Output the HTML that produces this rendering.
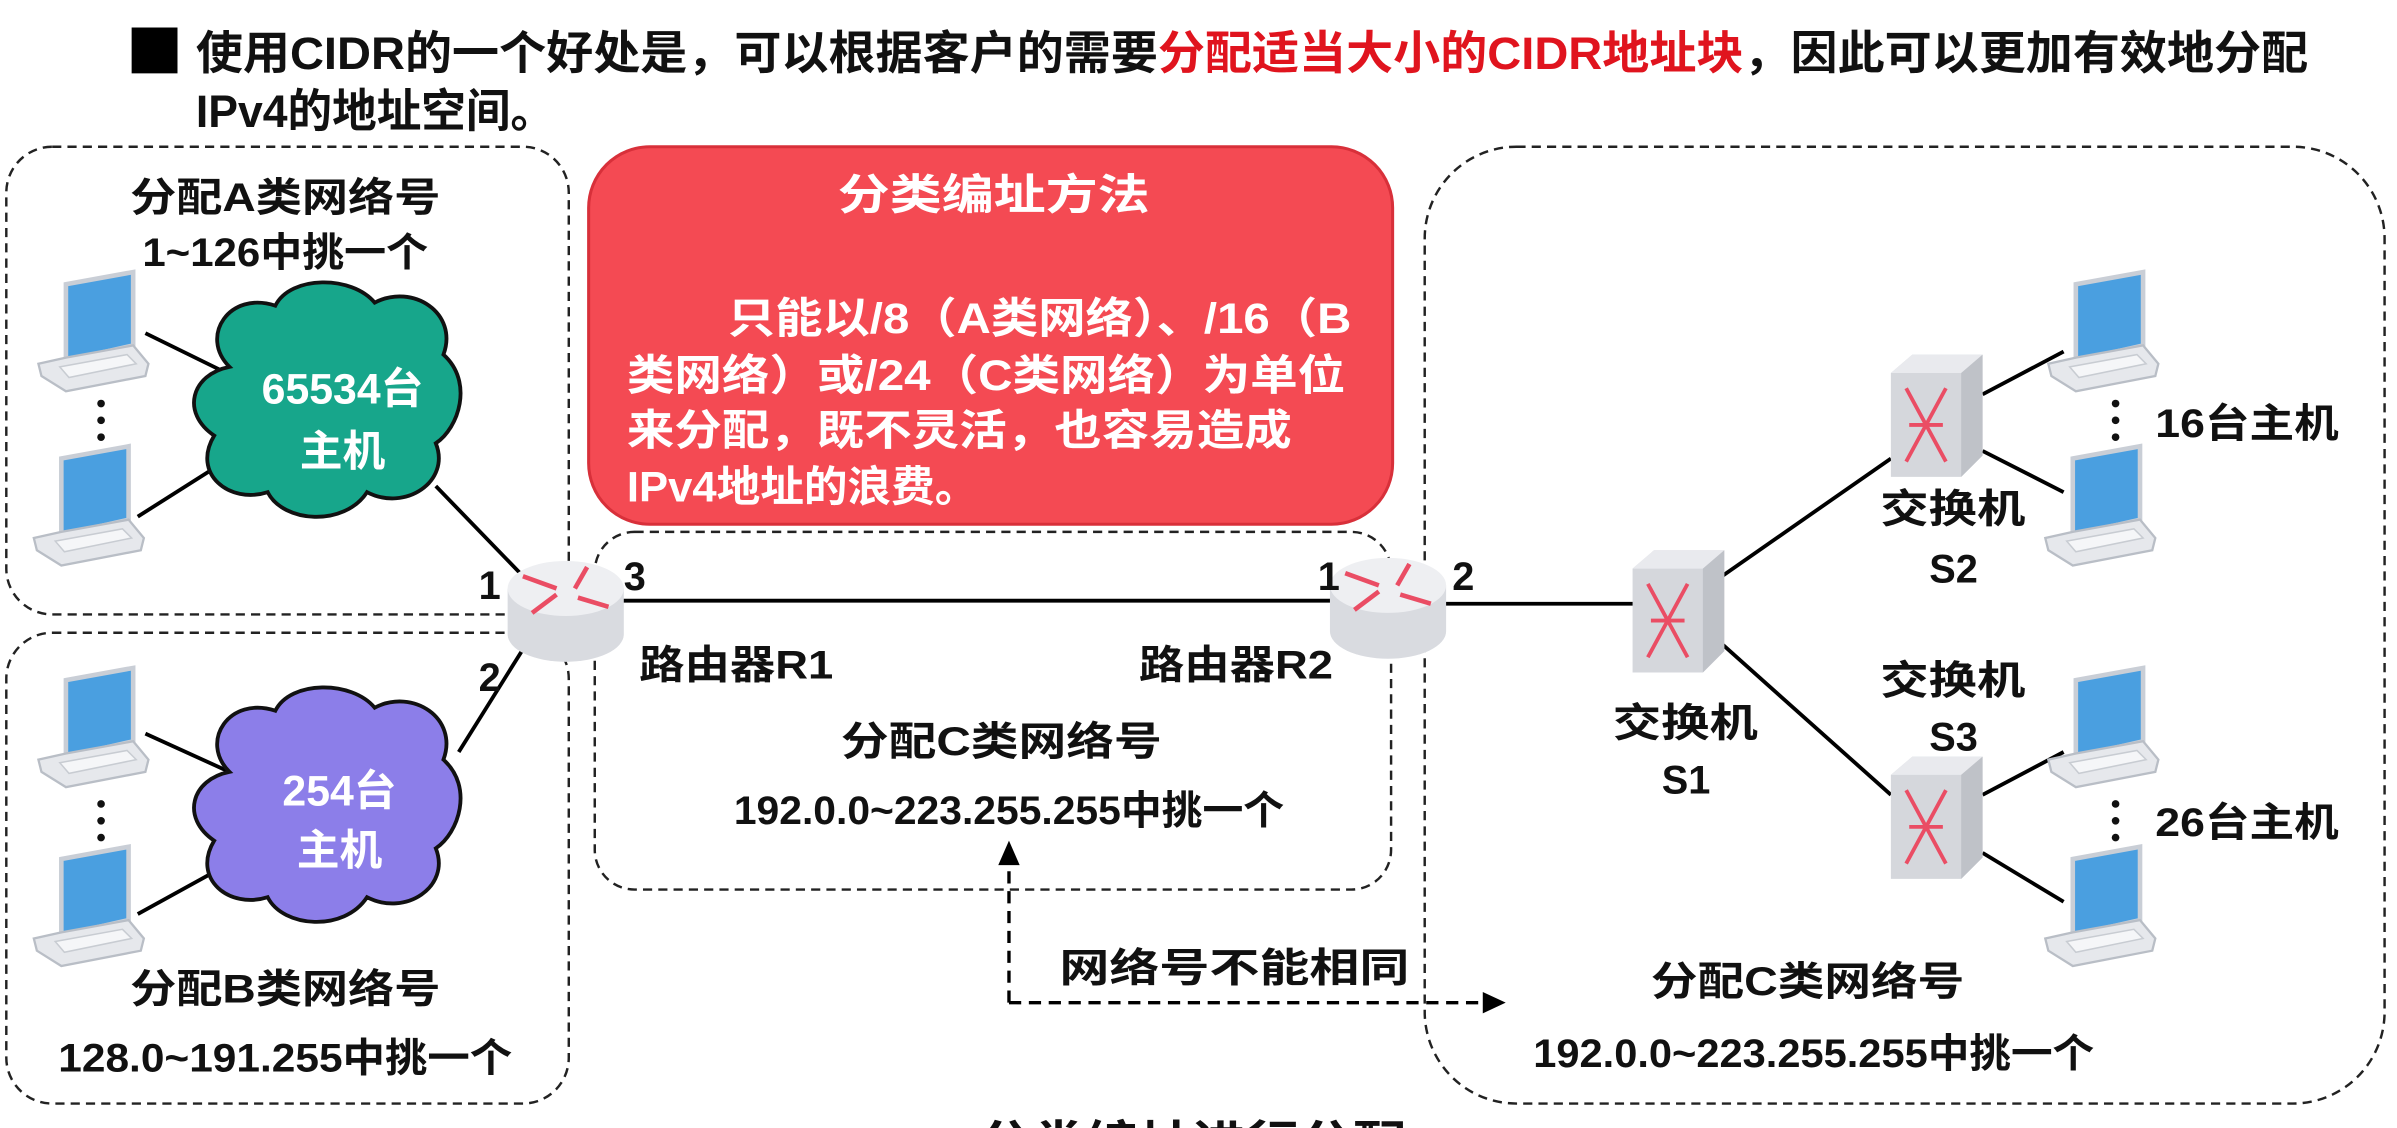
<!DOCTYPE html>
<html><head><meta charset="utf-8"><style>
html,body{margin:0;padding:0;background:#fff;width:2397px;height:1128px;overflow:hidden}
svg text{font-family:"Liberation Sans","Noto Sans CJK SC",sans-serif;font-weight:bold}
</style></head><body>
<svg width="2397" height="1128" viewBox="0 0 1568 738" xmlns="http://www.w3.org/2000/svg">
<defs>
<g id="laptop">
  <polygon points="18,0 62,-8 62,40 18,50" fill="#4a9fe0" stroke="#c9ced6" stroke-width="3"/>
  <polygon points="0,52 18,48 62,40 72,52 70,60 18,70 2,60" fill="#e6e8ec" stroke="#b9bec6" stroke-width="1.5"/>
  <polygon points="14,54 58,46 64,52 20,61" fill="#f5f6f8" stroke="#c8ccd2"/>
</g>
<g id="router">
  <path d="M-38,-10 L-38,20 A38,18 0 0 0 38,20 L38,-10" fill="#d9dbe0"/>
  <ellipse cx="0" cy="-10" rx="38" ry="18" fill="#eeeff2"/>
  <g stroke="#ea4d64" stroke-width="3" fill="none">
    <line x1="-28" y1="-18" x2="-6" y2="-10"/><line x1="-6" y1="-6" x2="-22" y2="6"/>
    <line x1="6" y1="-10" x2="14" y2="-24"/><line x1="8" y1="-4" x2="28" y2="2"/>
  </g>
</g>
<g id="switch">
  <polygon points="0,12 14,0 60,0 60,66 46,80 0,80" fill="#d5d7dc"/>
  <polygon points="0,12 14,0 60,0 46,12" fill="#e9eaee"/>
  <polygon points="46,12 60,0 60,66 46,80" fill="#bfc2c8"/>
  <g stroke="#ea4d64" stroke-width="2.5" fill="none">
    <path d="M10,22 L36,70 M36,22 L10,70 M12,46 L34,46"/>
  </g>
</g>
</defs>

<!-- title -->
<rect x="86" y="18" width="30" height="30" fill="#000"/>
<text x="128" y="45" font-size="30" fill="#111" textLength="1382" lengthAdjust="spacingAndGlyphs">使用CIDR的一个好处是，可以根据客户的需要<tspan fill="#e0141e">分配适当大小的CIDR地址块</tspan>，因此可以更加有效地分配</text>
<text x="128" y="83" font-size="30" fill="#111" textLength="235" lengthAdjust="spacingAndGlyphs">IPv4的地址空间。</text>

<!-- dashed boxes -->
<g fill="none" stroke="#222" stroke-width="1.6" stroke-dasharray="6,4">
<rect x="4" y="96" width="368" height="306" rx="30"/>
<rect x="4" y="414" width="368" height="308" rx="30"/>
<rect x="389" y="348" width="521" height="234" rx="26"/>
<rect x="932" y="96" width="628" height="626" rx="60"/>
</g>

<!-- red box -->
<rect x="385" y="96" width="526" height="247" rx="40" fill="#f44a53" stroke="#d8303a" stroke-width="2"/>
<g fill="#fff" font-size="28">
<text x="548" y="137" textLength="204" lengthAdjust="spacingAndGlyphs">分类编址方法</text>
<text x="476" y="218" textLength="408" lengthAdjust="spacingAndGlyphs">只能以/8（A类网络）、/16（B</text>
<text x="410" y="255" textLength="470" lengthAdjust="spacingAndGlyphs">类网络）或/24（C类网络）为单位</text>
<text x="410" y="291" textLength="435" lengthAdjust="spacingAndGlyphs">来分配，既不灵活，也容易造成</text>
<text x="410" y="328" textLength="230" lengthAdjust="spacingAndGlyphs">IPv4地址的浪费。</text>
</g>

<!-- lines -->
<g stroke="#000" stroke-width="2.5">
<line x1="95" y1="218" x2="150" y2="245"/>
<line x1="90" y1="338" x2="150" y2="300"/>
<line x1="285" y1="318" x2="345" y2="380"/>
<line x1="95" y1="480" x2="150" y2="505"/>
<line x1="90" y1="598" x2="150" y2="565"/>
<line x1="300" y1="492" x2="345" y2="420"/>
<line x1="405" y1="393" x2="875" y2="393"/>
<line x1="945" y1="395" x2="1072" y2="395"/>
<line x1="1125" y1="378" x2="1237" y2="300"/>
<line x1="1125" y1="420" x2="1237" y2="520"/>
<line x1="1297" y1="258" x2="1350" y2="230"/>
<line x1="1297" y1="295" x2="1350" y2="322"/>
<line x1="1297" y1="520" x2="1350" y2="492"/>
<line x1="1297" y1="558" x2="1350" y2="590"/>
</g>

<!-- clouds -->
<g stroke="#111" stroke-width="2.5">
<path d="M150,240 C130,220 150,190 180,200 C190,180 230,180 245,198 C270,185 300,205 290,232 C310,250 300,280 285,290 C295,315 265,335 240,322 C225,345 185,342 175,322 C150,330 125,310 140,285 C118,270 125,245 150,240 Z" fill="#17a68b"/>
<path d="M150,505 C130,485 150,455 180,465 C190,445 230,445 245,463 C270,450 300,470 290,497 C310,515 300,545 285,555 C295,580 265,600 240,587 C225,610 185,607 175,587 C150,595 125,575 140,550 C118,535 125,510 150,505 Z" fill="#8c7ee9"/>
</g>
<g fill="#fff" font-size="28" text-anchor="middle">
<text x="224" y="264">65534台</text><text x="224" y="305">主机</text>
<text x="222" y="527">254台</text><text x="222" y="566">主机</text>
</g>

<!-- laptops -->
<use href="#laptop" x="25" y="186"/>
<use href="#laptop" x="22" y="300"/>
<use href="#laptop" x="25" y="445"/>
<use href="#laptop" x="22" y="562"/>
<use href="#laptop" x="1340" y="186"/>
<use href="#laptop" x="1338" y="300"/>
<use href="#laptop" x="1340" y="445"/>
<use href="#laptop" x="1338" y="562"/>
<g fill="#111">
<circle cx="66" cy="264" r="2.5"/><circle cx="66" cy="275" r="2.5"/><circle cx="66" cy="286" r="2.5"/>
<circle cx="66" cy="526" r="2.5"/><circle cx="66" cy="537" r="2.5"/><circle cx="66" cy="548" r="2.5"/>
<circle cx="1384" cy="264" r="2.5"/><circle cx="1384" cy="275" r="2.5"/><circle cx="1384" cy="286" r="2.5"/>
<circle cx="1384" cy="526" r="2.5"/><circle cx="1384" cy="537" r="2.5"/><circle cx="1384" cy="548" r="2.5"/>
</g>

<!-- routers & switches -->
<use href="#router" x="370" y="395"/>
<use href="#router" x="908" y="393"/>
<use href="#switch" x="1068" y="360"/>
<use href="#switch" x="1237" y="232"/>
<use href="#switch" x="1237" y="495"/>

<!-- labels -->
<g fill="#111" font-size="26" lengthAdjust="spacingAndGlyphs">
<text x="85" y="138" textLength="203" lengthAdjust="spacingAndGlyphs">分配A类网络号</text>
<text x="93" y="174" textLength="187" lengthAdjust="spacingAndGlyphs">1~126中挑一个</text>
<text x="85" y="656" textLength="203" lengthAdjust="spacingAndGlyphs">分配B类网络号</text>
<text x="38" y="701" textLength="297" lengthAdjust="spacingAndGlyphs">128.0~191.255中挑一个</text>
<text x="313" y="392">1</text><text x="408" y="386">3</text><text x="313" y="452">2</text>
<text x="862" y="386">1</text><text x="950" y="386">2</text>
<text x="418" y="444" textLength="127" lengthAdjust="spacingAndGlyphs">路由器R1</text>
<text x="745" y="444" textLength="127" lengthAdjust="spacingAndGlyphs">路由器R2</text>
<text x="550" y="494" textLength="210" lengthAdjust="spacingAndGlyphs">分配C类网络号</text>
<text x="480" y="539" textLength="360" lengthAdjust="spacingAndGlyphs">192.0.0~223.255.255中挑一个</text>
<text x="1230" y="342" textLength="95" lengthAdjust="spacingAndGlyphs">交换机</text><text x="1278" y="381" text-anchor="middle">S2</text>
<text x="1230" y="454" textLength="95" lengthAdjust="spacingAndGlyphs">交换机</text><text x="1278" y="491" text-anchor="middle">S3</text>
<text x="1055" y="482" textLength="95" lengthAdjust="spacingAndGlyphs">交换机</text><text x="1103" y="519" text-anchor="middle">S1</text>
<text x="1410" y="286" textLength="120" lengthAdjust="spacingAndGlyphs">16台主机</text>
<text x="1410" y="547" textLength="120" lengthAdjust="spacingAndGlyphs">26台主机</text>
<text x="693" y="642" textLength="229" lengthAdjust="spacingAndGlyphs">网络号不能相同</text>
<text x="1080" y="651" textLength="205" lengthAdjust="spacingAndGlyphs">分配C类网络号</text>
<text x="1003" y="698" textLength="367" lengthAdjust="spacingAndGlyphs">192.0.0~223.255.255中挑一个</text>
<text x="640" y="758" font-size="30" textLength="280" lengthAdjust="spacingAndGlyphs">分类编址进行分配</text>
</g>

<!-- dashed arrows -->
<g stroke="#000" stroke-width="2.2" fill="none" stroke-dasharray="8,5">
<path d="M660,656 L660,566"/>
<path d="M660,656 L970,656"/>
</g>
<polygon points="660,550 653,566 667,566" fill="#000"/>
<polygon points="985,656 970,649 970,663" fill="#000"/>
</svg>
</body></html>
